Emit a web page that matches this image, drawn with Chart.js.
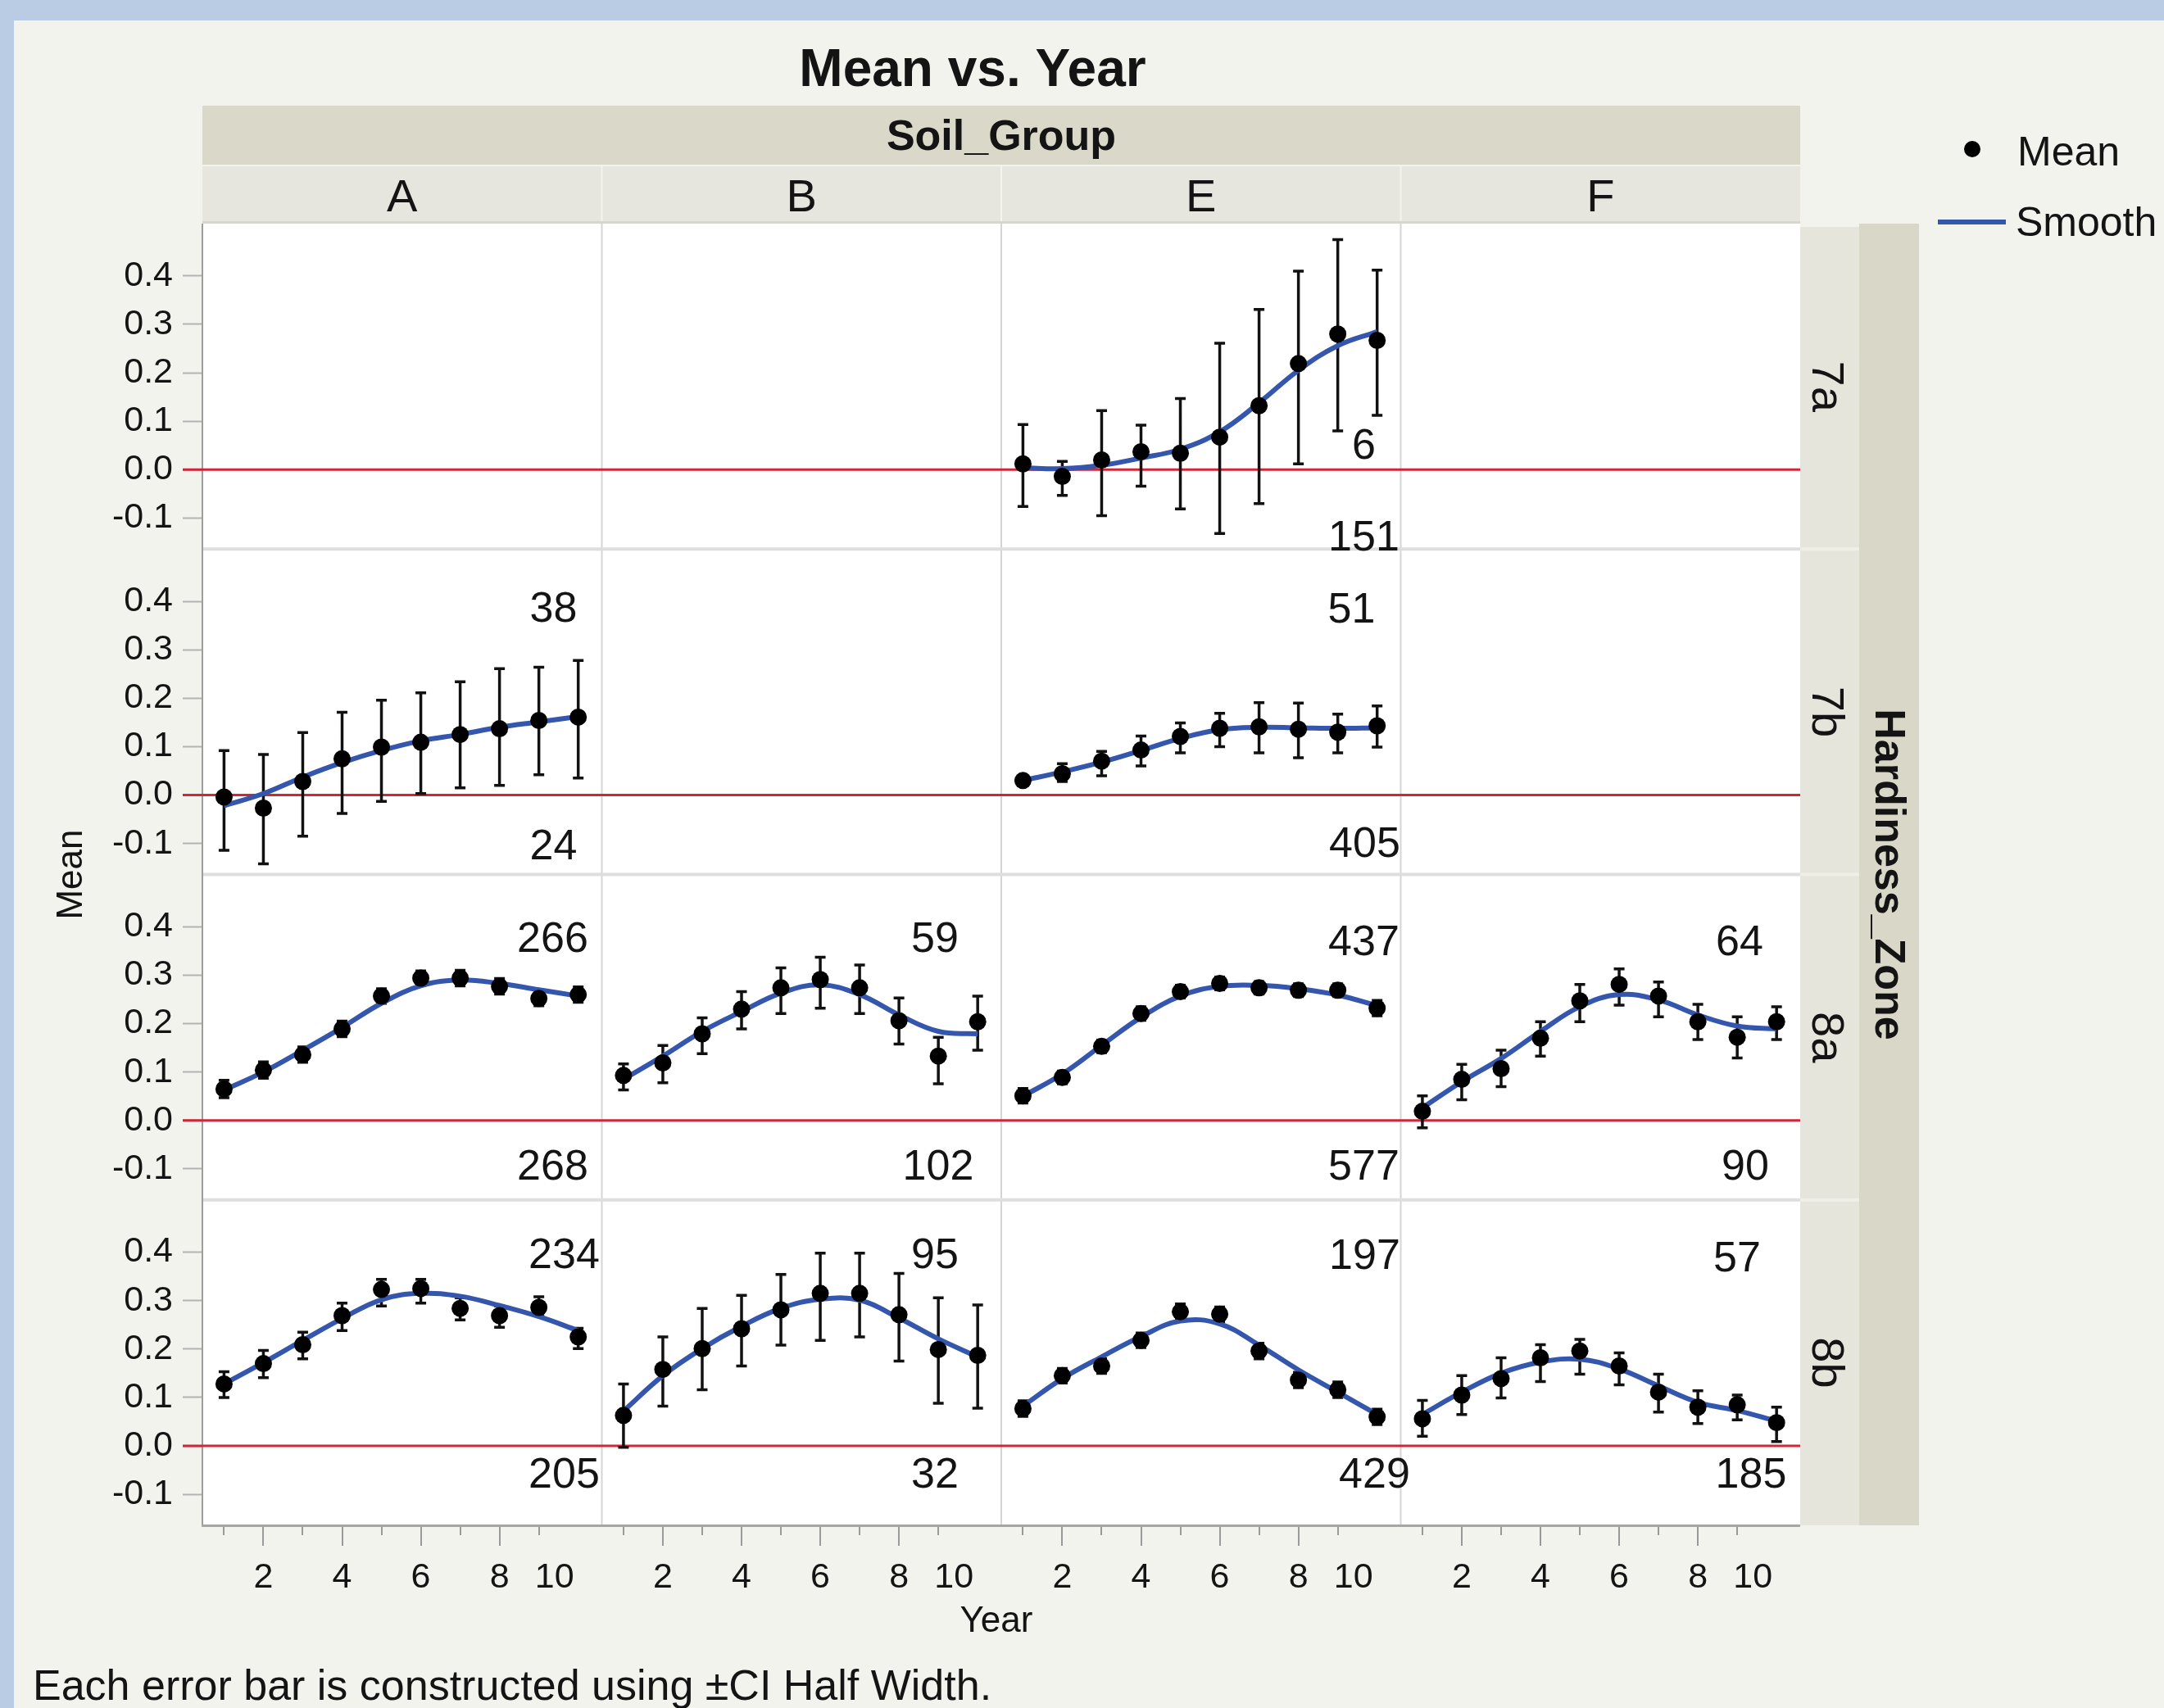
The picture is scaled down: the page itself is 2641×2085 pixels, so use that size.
<!DOCTYPE html>
<html>
<head>
<meta charset="utf-8">
<script src="https://cdn.jsdelivr.net/npm/chart.js@4.4.1/dist/chart.umd.min.js"></script>
<style>
html,body{margin:0;padding:0;background:#f3f3ee;overflow:hidden}
canvas{display:block}
</style>
</head>
<body>
<canvas id="c" width="2641" height="2085"></canvas>
<script>
// ---------------- DATA ----------------
const years = [1, 2, 3, 4, 5, 6, 7, 8, 9, 10];
const soilGroups = ['A', 'B', 'E', 'F'];
const zones = ['7a', '7b', '8a', '8b'];
const yTickValues = [-0.1, 0.0, 0.1, 0.2, 0.3, 0.4];
const xMajorTicks = [2, 4, 6, 8];
const xMinorTicks = [1, 3, 5, 7, 9];
const xTickLabels = [2, 4, 6, 8, 10];

// Zone 7a, Soil group E
const mean_7a_E   = [0.012, -0.014, 0.020, 0.037, 0.034, 0.067, 0.132, 0.219, 0.280, 0.267];
const lower_7a_E  = [-0.076, -0.053, -0.095, -0.034, -0.081, -0.132, -0.070, 0.012, 0.080, 0.112];
const upper_7a_E  = [0.093, 0.017, 0.122, 0.092, 0.147, 0.261, 0.331, 0.410, 0.475, 0.412];
const smooth_7a_E = [0.004, 0.002, 0.009, 0.024, 0.042, 0.078, 0.138, 0.205, 0.256, 0.285];
const n_7a_E = ['6', '151'];

// Zone 7b, Soil group A
const mean_7b_A   = [-0.004, -0.027, 0.028, 0.075, 0.099, 0.109, 0.125, 0.137, 0.154, 0.161];
const lower_7b_A  = [-0.114, -0.142, -0.085, -0.038, -0.013, 0.003, 0.015, 0.020, 0.042, 0.035];
const upper_7b_A  = [0.092, 0.084, 0.129, 0.171, 0.196, 0.211, 0.234, 0.261, 0.264, 0.278];
const smooth_7b_A = [-0.022, 0.003, 0.037, 0.067, 0.092, 0.112, 0.125, 0.140, 0.151, 0.162];
const n_7b_A = ['38', '24'];

// Zone 7b, Soil group E
const mean_7b_E   = [0.030, 0.044, 0.070, 0.093, 0.121, 0.138, 0.141, 0.136, 0.130, 0.143];
const lower_7b_E  = [0.022, 0.028, 0.040, 0.060, 0.087, 0.100, 0.087, 0.077, 0.087, 0.099];
const upper_7b_E  = [0.040, 0.065, 0.090, 0.122, 0.149, 0.169, 0.191, 0.190, 0.167, 0.184];
const smooth_7b_E = [0.030, 0.048, 0.068, 0.092, 0.117, 0.135, 0.140, 0.139, 0.138, 0.139];
const n_7b_E = ['51', '405'];

// Zone 8a, Soil group A
const mean_8a_A   = [0.065, 0.104, 0.136, 0.189, 0.257, 0.294, 0.294, 0.277, 0.252, 0.260];
const lower_8a_A  = [0.047, 0.087, 0.120, 0.173, 0.242, 0.279, 0.278, 0.261, 0.237, 0.244];
const upper_8a_A  = [0.083, 0.121, 0.152, 0.205, 0.272, 0.309, 0.310, 0.293, 0.267, 0.276];
const smooth_8a_A = [0.063, 0.100, 0.145, 0.192, 0.242, 0.278, 0.290, 0.283, 0.270, 0.257];
const n_8a_A = ['266', '268'];

// Zone 8a, Soil group B
const mean_8a_B   = [0.093, 0.119, 0.179, 0.230, 0.274, 0.291, 0.274, 0.206, 0.133, 0.204];
const lower_8a_B  = [0.063, 0.078, 0.138, 0.189, 0.221, 0.232, 0.221, 0.158, 0.076, 0.145];
const upper_8a_B  = [0.117, 0.155, 0.212, 0.266, 0.315, 0.337, 0.321, 0.253, 0.172, 0.257];
const smooth_8a_B = [0.085, 0.133, 0.184, 0.225, 0.263, 0.280, 0.260, 0.218, 0.184, 0.179];
const n_8a_B = ['59', '102'];

// Zone 8a, Soil group E
const mean_8a_E   = [0.051, 0.089, 0.153, 0.221, 0.266, 0.283, 0.274, 0.269, 0.269, 0.232];
const lower_8a_E  = [0.036, 0.076, 0.140, 0.207, 0.253, 0.270, 0.261, 0.256, 0.256, 0.216];
const upper_8a_E  = [0.066, 0.102, 0.166, 0.235, 0.279, 0.296, 0.287, 0.282, 0.282, 0.248];
const smooth_8a_E = [0.050, 0.096, 0.155, 0.213, 0.257, 0.277, 0.279, 0.272, 0.259, 0.237];
const n_8a_E = ['437', '577'];

// Zone 8a, Soil group F
const mean_8a_F   = [0.019, 0.085, 0.107, 0.170, 0.247, 0.281, 0.257, 0.204, 0.172, 0.204];
const lower_8a_F  = [-0.015, 0.043, 0.070, 0.133, 0.204, 0.238, 0.214, 0.167, 0.129, 0.167];
const upper_8a_F  = [0.051, 0.116, 0.145, 0.204, 0.281, 0.313, 0.286, 0.240, 0.214, 0.235];
const smooth_8a_F = [0.026, 0.080, 0.128, 0.184, 0.235, 0.260, 0.249, 0.218, 0.195, 0.189];
const n_8a_F = ['64', '90'];

// Zone 8b, Soil group A
const mean_8b_A   = [0.128, 0.170, 0.209, 0.269, 0.323, 0.325, 0.284, 0.269, 0.286, 0.225];
const lower_8b_A  = [0.100, 0.141, 0.180, 0.238, 0.289, 0.295, 0.260, 0.245, 0.269, 0.201];
const upper_8b_A  = [0.153, 0.197, 0.235, 0.295, 0.344, 0.344, 0.306, 0.289, 0.308, 0.243];
const smooth_8b_A = [0.128, 0.172, 0.218, 0.263, 0.302, 0.315, 0.309, 0.290, 0.267, 0.238];
const n_8b_A = ['234', '205'];

// Zone 8b, Soil group B
const mean_8b_B   = [0.063, 0.158, 0.201, 0.242, 0.281, 0.315, 0.315, 0.271, 0.199, 0.187];
const lower_8b_B  = [-0.003, 0.082, 0.116, 0.165, 0.208, 0.218, 0.225, 0.175, 0.088, 0.078];
const upper_8b_B  = [0.128, 0.225, 0.284, 0.311, 0.354, 0.398, 0.398, 0.356, 0.306, 0.291];
const smooth_8b_B = [0.072, 0.145, 0.201, 0.247, 0.284, 0.303, 0.301, 0.264, 0.221, 0.184];
const n_8b_B = ['95', '32'];

// Zone 8b, Soil group E
const mean_8b_E   = [0.077, 0.145, 0.165, 0.218, 0.277, 0.272, 0.196, 0.136, 0.116, 0.060];
const lower_8b_E  = [0.061, 0.130, 0.150, 0.203, 0.261, 0.257, 0.180, 0.120, 0.100, 0.044];
const upper_8b_E  = [0.093, 0.160, 0.180, 0.233, 0.293, 0.287, 0.212, 0.152, 0.132, 0.076];
const smooth_8b_E = [0.082, 0.139, 0.184, 0.226, 0.258, 0.252, 0.208, 0.157, 0.111, 0.065];
const n_8b_E = ['197', '429'];

// Zone 8b, Soil group F
const mean_8b_F   = [0.056, 0.105, 0.139, 0.182, 0.196, 0.165, 0.111, 0.080, 0.085, 0.048];
const lower_8b_F  = [0.020, 0.065, 0.099, 0.133, 0.148, 0.126, 0.070, 0.046, 0.054, 0.009];
const upper_8b_F  = [0.094, 0.145, 0.182, 0.209, 0.220, 0.192, 0.148, 0.114, 0.105, 0.080];
const smooth_8b_F = [0.065, 0.111, 0.150, 0.173, 0.179, 0.159, 0.124, 0.090, 0.073, 0.051];
const n_8b_F = ['57', '185'];

const panels = [
  {zone: '7a', group: 'E', mean: mean_7a_E, lower: lower_7a_E, upper: upper_7a_E, smooth: smooth_7a_E, n: n_7a_E},
  {zone: '7b', group: 'A', mean: mean_7b_A, lower: lower_7b_A, upper: upper_7b_A, smooth: smooth_7b_A, n: n_7b_A},
  {zone: '7b', group: 'E', mean: mean_7b_E, lower: lower_7b_E, upper: upper_7b_E, smooth: smooth_7b_E, n: n_7b_E},
  {zone: '8a', group: 'A', mean: mean_8a_A, lower: lower_8a_A, upper: upper_8a_A, smooth: smooth_8a_A, n: n_8a_A},
  {zone: '8a', group: 'B', mean: mean_8a_B, lower: lower_8a_B, upper: upper_8a_B, smooth: smooth_8a_B, n: n_8a_B},
  {zone: '8a', group: 'E', mean: mean_8a_E, lower: lower_8a_E, upper: upper_8a_E, smooth: smooth_8a_E, n: n_8a_E},
  {zone: '8a', group: 'F', mean: mean_8a_F, lower: lower_8a_F, upper: upper_8a_F, smooth: smooth_8a_F, n: n_8a_F},
  {zone: '8b', group: 'A', mean: mean_8b_A, lower: lower_8b_A, upper: upper_8b_A, smooth: smooth_8b_A, n: n_8b_A},
  {zone: '8b', group: 'B', mean: mean_8b_B, lower: lower_8b_B, upper: upper_8b_B, smooth: smooth_8b_B, n: n_8b_B},
  {zone: '8b', group: 'E', mean: mean_8b_E, lower: lower_8b_E, upper: upper_8b_E, smooth: smooth_8b_E, n: n_8b_E},
  {zone: '8b', group: 'F', mean: mean_8b_F, lower: lower_8b_F, upper: upper_8b_F, smooth: smooth_8b_F, n: n_8b_F}
];

// ---------------- LAYOUT / STYLE ----------------
const FONT = '"Liberation Sans", Arial, Helvetica, sans-serif';
const TXT = '#141414';
const BLUE = '#3456ad';
const RED = '#d0263a';
const X_MIN = 0.45, X_MAX = 10.6;
const Y_MIN = -0.164, Y_MAX = 0.508;
// count-label centres, offsets from the panel's right edge / top edge
const countPos = {
  '7a_E': [[-45, 268], [-45, 380]],
  '7b_A': [[-59, 70], [-59, 360]],
  '7b_E': [[-60, 71], [-44, 357]],
  '8a_A': [[-60, 75], [-60, 353]],
  '8a_B': [[-81, 75], [-77, 353]],
  '8a_E': [[-45, 79], [-45, 353]],
  '8a_F': [[-74, 79], [-67, 353]],
  '8b_A': [[-46, 64], [-46, 332]],
  '8b_B': [[-81, 64], [-81, 332]],
  '8b_E': [[-44, 65], [-32, 332]],
  '8b_F': [[-77, 68], [-60, 332]]
};
const LAST_XLABEL_SHIFT = -29;

// ---------------- DATASETS ----------------
const datasets = [];
panels.forEach(p => {
  const c = soilGroups.indexOf(p.group);
  const r = zones.indexOf(p.zone);
  const xa = 'x' + c, ya = 'y' + r;
  const bars = [];
  years.forEach((yr, i) => {
    bars.push({x: yr, y: p.lower[i]}, {x: yr, y: p.upper[i]}, {x: yr, y: null});
  });
  datasets.push({
    type: 'line', label: 'ci', data: bars, xAxisID: xa, yAxisID: ya,
    borderColor: '#111', borderWidth: 3.5, pointRadius: 0, tension: 0, spanGaps: false, order: 3
  });
  const caps = [];
  years.forEach((yr, i) => {
    caps.push({x: yr, y: p.lower[i]}, {x: yr, y: p.upper[i]});
  });
  datasets.push({
    type: 'line', label: 'caps', data: caps, xAxisID: xa, yAxisID: ya, showLine: false,
    pointStyle: 'line', pointRadius: 6.5, pointBorderWidth: 3.5, pointBorderColor: '#111',
    pointBackgroundColor: '#111', order: 2
  });
  datasets.push({
    type: 'line', label: 'Smooth', data: years.map((yr, i) => ({x: yr, y: p.smooth[i]})),
    xAxisID: xa, yAxisID: ya, borderColor: BLUE, borderWidth: 6, pointRadius: 0,
    tension: 0.4, fill: false, order: 1
  });
  datasets.push({
    type: 'line', label: 'Mean', data: years.map((yr, i) => ({x: yr, y: p.mean[i]})),
    xAxisID: xa, yAxisID: ya, showLine: false, pointRadius: 10.5, pointBorderWidth: 0,
    pointBackgroundColor: '#000', pointBorderColor: '#000', order: 0
  });
});

// ---------------- SCALES ----------------
const scales = {};
soilGroups.forEach((g, c) => {
  scales['x' + c] = {
    type: 'linear', position: 'bottom', stack: 'cols', stackWeight: 1, bounds: 'data',
    min: X_MIN, max: X_MAX,
    ticks: {display: false},
    grid: {display: false, drawTicks: false},
    border: {display: false},
    afterFit: s => { s.height = 0; }
  };
});
zones.forEach((z, r) => {
  scales['y' + r] = {
    type: 'linear', position: 'left', stack: 'rows', stackWeight: 1, weight: zones.length - r,
    bounds: 'data', min: Y_MIN, max: Y_MAX,
    afterBuildTicks: s => { s.ticks = yTickValues.map(v => ({value: v})); },
    ticks: {
      autoSkip: false, padding: 12, color: TXT,
      font: {family: FONT, size: 43},
      callback: v => Number(v).toFixed(1)
    },
    grid: {display: true, drawOnChartArea: false, drawTicks: true, tickLength: 24, tickColor: '#b3b3b3', tickWidth: 2},
    border: {display: false},
    afterFit: s => { s.width = 247; }
  };
});

// ---------------- DECORATION PLUGIN ----------------
function text(ctx, s, x, y, font, align, color) {
  ctx.font = font + ' ' + FONT;
  ctx.textAlign = align || 'left';
  ctx.textBaseline = 'alphabetic';
  ctx.fillStyle = color || TXT;
  ctx.fillText(s, x, y);
}
function rtext(ctx, s, x, y, angle, font, align) {
  ctx.save();
  ctx.translate(x, y);
  ctx.rotate(angle);
  text(ctx, s, 0, 0, font, align || 'center');
  ctx.restore();
}

const decor = {
  id: 'decor',
  beforeDraw(chart) {
    const ctx = chart.ctx, a = chart.chartArea;
    ctx.save();
    ctx.fillStyle = '#f3f3ee';
    ctx.fillRect(0, 0, chart.width, chart.height);
    ctx.fillStyle = '#b9cce4';
    ctx.fillRect(0, 0, chart.width, 25);
    ctx.fillRect(0, 0, 17, chart.height);

    // title
    text(ctx, 'Mean vs. Year', 1187, 105, 'bold 64px', 'center');

    // Soil_Group header
    ctx.fillStyle = '#dad9c9';
    ctx.fillRect(a.left, 129, a.right - a.left, 73);
    text(ctx, 'Soil_Group', (a.left + a.right) / 2, 183, 'bold 52px', 'center');
    ctx.fillStyle = '#e6e6de';
    ctx.fillRect(a.left, 202, a.right - a.left, a.top - 202);
    ctx.fillStyle = '#f4f4ef';
    ctx.fillRect(a.left, 201, a.right - a.left, 2);
    soilGroups.forEach((g, c) => {
      const xs = chart.scales['x' + c];
      if (c > 0) { ctx.fillStyle = '#f4f4ef'; ctx.fillRect(xs.left - 1, 202, 2, a.top - 202); }
      text(ctx, g, (xs.left + xs.right) / 2, 258, '56px', 'center');
    });
    ctx.fillStyle = '#d6d6cc';
    ctx.fillRect(a.left, a.top - 3, a.right - a.left, 3);

    // right strips
    ctx.fillStyle = '#e6e5dc';
    ctx.fillRect(a.right, a.top + 4, 72, a.bottom - a.top - 4);
    ctx.fillStyle = '#d9d8c8';
    ctx.fillRect(a.right + 72, a.top, 73, a.bottom - a.top);
    zones.forEach((z, r) => {
      const ys = chart.scales['y' + r];
      if (r > 0) { ctx.fillStyle = '#efefe8'; ctx.fillRect(a.right, ys.top - 2, 72, 4); }
      rtext(ctx, z, a.right + 15, (ys.top + ys.bottom) / 2, Math.PI / 2, '56px', 'center');
    });
    rtext(ctx, 'Hardiness_Zone', a.right + 92, (a.top + a.bottom) / 2, Math.PI / 2, 'bold 52px', 'center');

    // plot area
    ctx.fillStyle = '#ffffff';
    ctx.fillRect(a.left, a.top, a.right - a.left, a.bottom - a.top);
    ctx.restore();
  },
  beforeDatasetsDraw(chart) {
    const ctx = chart.ctx, a = chart.chartArea;
    ctx.save();
    // column separators
    soilGroups.forEach((g, c) => {
      if (c === 0) return;
      const xs = chart.scales['x' + c];
      ctx.fillStyle = '#d5d5d5';
      ctx.fillRect(xs.left - 1, a.top, 2, a.bottom - a.top);
    });
    // row separators
    zones.forEach((z, r) => {
      if (r === 0) return;
      const ys = chart.scales['y' + r];
      ctx.fillStyle = '#dedede';
      ctx.fillRect(a.left, ys.top - 2, a.right - a.left, 4);
    });
    // frame lines
    ctx.fillStyle = '#9d9d9d';
    ctx.fillRect(a.left - 1, a.top, 2, a.bottom - a.top);
    ctx.fillStyle = '#a6a6a6';
    ctx.fillRect(a.left - 1, a.bottom - 1, a.right - a.left + 1, 3);
    // zero reference lines
    zones.forEach((z, r) => {
      const ys = chart.scales['y' + r];
      const y0 = ys.getPixelForValue(0);
      ctx.strokeStyle = RED;
      ctx.lineWidth = 3;
      ctx.beginPath();
      ctx.moveTo(a.left - 24, y0);
      ctx.lineTo(a.right, y0);
      ctx.stroke();
    });
    ctx.restore();
  },
  afterDraw(chart) {
    const ctx = chart.ctx, a = chart.chartArea;
    ctx.save();
    // x ticks and labels
    soilGroups.forEach((g, c) => {
      const xs = chart.scales['x' + c];
      ctx.strokeStyle = '#9a9a9a';
      ctx.lineWidth = 2;
      xMajorTicks.forEach(v => {
        const px = Math.round(xs.getPixelForValue(v));
        ctx.beginPath(); ctx.moveTo(px, a.bottom + 2); ctx.lineTo(px, a.bottom + 25); ctx.stroke();
      });
      xMinorTicks.forEach(v => {
        const px = Math.round(xs.getPixelForValue(v));
        ctx.beginPath(); ctx.moveTo(px, a.bottom + 2); ctx.lineTo(px, a.bottom + 12); ctx.stroke();
      });
      xTickLabels.forEach((v, i) => {
        const shift = (i === xTickLabels.length - 1) ? LAST_XLABEL_SHIFT : 0;
        text(ctx, String(v), xs.getPixelForValue(v) + shift, 1938, '43px', 'center');
      });
    });
    // count labels
    panels.forEach(p => {
      const c = soilGroups.indexOf(p.group), r = zones.indexOf(p.zone);
      const xs = chart.scales['x' + c], ys = chart.scales['y' + r];
      const pos = countPos[p.zone + '_' + p.group];
      p.n.forEach((s, k) => {
        text(ctx, s, xs.right + pos[k][0], ys.top + pos[k][1] + 19, '52px', 'center');
      });
    });
    // axis titles
    rtext(ctx, 'Mean', 100, (a.top + a.bottom) / 2, -Math.PI / 2, '44px', 'center');
    text(ctx, 'Year', (a.left + a.right) / 2 - 6, 1992, '44px', 'center');
    // footnote
    text(ctx, 'Each error bar is constructed using \u00B1CI Half Width.', 40, 2075, '52px', 'left');
    // legend
    ctx.fillStyle = '#000';
    ctx.beginPath(); ctx.arc(2407, 182, 10, 0, Math.PI * 2); ctx.fill();
    text(ctx, 'Mean', 2462, 202, '50px', 'left');
    ctx.strokeStyle = BLUE; ctx.lineWidth = 6;
    ctx.beginPath(); ctx.moveTo(2365, 271); ctx.lineTo(2448, 271); ctx.stroke();
    text(ctx, 'Smooth', 2460, 288, '50px', 'left');
    ctx.restore();
  }
};

new Chart(document.getElementById('c'), {
  type: 'line',
  data: {datasets},
  options: {
    responsive: false,
    devicePixelRatio: 1,
    animation: false,
    events: [],
    layout: {padding: {left: 0, top: 273, right: 444, bottom: 223}},
    plugins: {legend: {display: false}, tooltip: {enabled: false}},
    scales
  },
  plugins: [decor]
});
</script>
</body>
</html>
